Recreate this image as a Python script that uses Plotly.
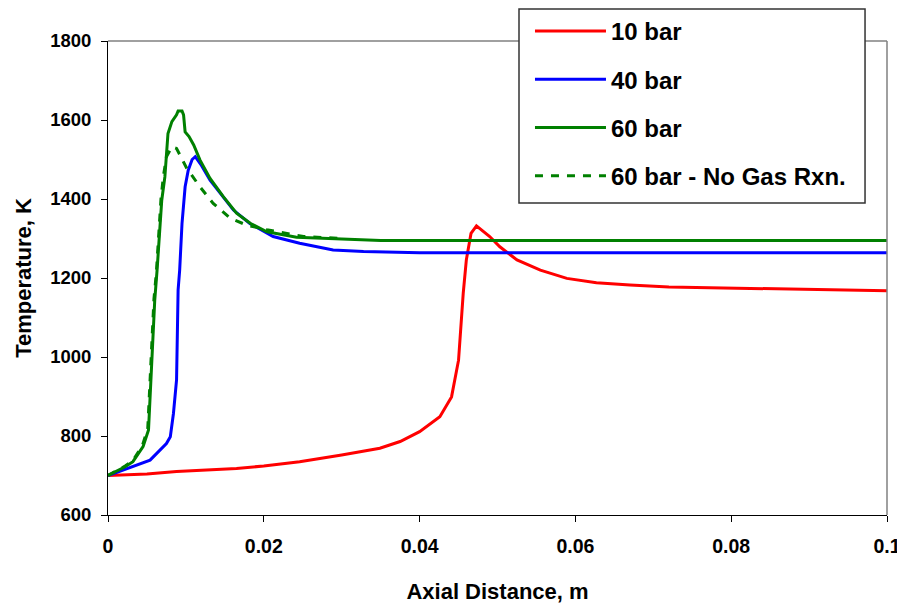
import plotly.graph_objects as go

# ---- data ----
x_10bar = [0, 0.005, 0.0088, 0.0165, 0.02, 0.0246, 0.03, 0.0349, 0.0375, 0.04, 0.0426,
           0.0441, 0.045, 0.0453, 0.0456, 0.046, 0.0466, 0.0473, 0.049, 0.0503, 0.0525,
           0.0555, 0.0589, 0.0627, 0.067, 0.072, 0.08, 0.09, 0.1]
t_10bar = [700, 704, 710, 718, 724, 735, 752, 769, 786, 811, 849,
           899, 992, 1077, 1161, 1246, 1313, 1332, 1305, 1279, 1246,
           1220, 1199, 1188, 1182, 1177, 1174, 1170, 1168]

x_40bar = [0, 0.0032, 0.0054, 0.0075, 0.008, 0.0084, 0.0088, 0.009, 0.0092, 0.0095,
           0.0099, 0.0103, 0.0108, 0.0112, 0.012, 0.0131, 0.0161, 0.0182, 0.0212, 0.0246,
           0.0289, 0.0328, 0.04, 0.1]
t_40bar = [700, 722, 739, 781, 798, 857, 942, 1170, 1220, 1338,
           1431, 1473, 1500, 1507, 1485, 1448, 1372, 1338, 1305, 1288,
           1271, 1267, 1264, 1264]

x_60bar = [0, 0.0022, 0.0032, 0.0045, 0.0052, 0.0054, 0.0056, 0.0058, 0.006, 0.0063,
           0.0066, 0.0069, 0.0073, 0.0077, 0.0082, 0.0088, 0.009, 0.0095, 0.0097, 0.0099,
           0.0104, 0.011, 0.0118, 0.0131, 0.0148, 0.0165, 0.0183, 0.0204, 0.0242, 0.0298,
           0.035, 0.1]
t_60bar = [700, 722, 735, 773, 815, 895, 980, 1085, 1144, 1220,
           1313, 1397, 1456, 1566, 1596, 1613, 1623, 1623, 1613, 1570,
           1558, 1537, 1499, 1452, 1406, 1364, 1338, 1317, 1303, 1298,
           1295, 1295]

x_60nogas = [0, 0.0022, 0.0032, 0.0044, 0.0051, 0.0053, 0.0055, 0.0057, 0.0059, 0.0062,
             0.0065, 0.0068, 0.0071, 0.0075, 0.0082, 0.0088, 0.0094, 0.0101, 0.0118, 0.0135,
             0.0157, 0.0178, 0.0204, 0.0251, 0.0302]
t_60nogas = [700, 724, 738, 775, 818, 898, 983, 1088, 1147, 1212,
             1315, 1400, 1456, 1507, 1532, 1528, 1505, 1478, 1431, 1389,
             1351, 1334, 1322, 1305, 1300]

series_names = ["10 bar", "40 bar", "60 bar", "60 bar - No Gas Rxn."]
x_ticks = [0, 0.02, 0.04, 0.06, 0.08, 0.1]
x_ticktext = ["0", "0.02", "0.04", "0.06", "0.08", "0.1"]
y_ticks = [600, 800, 1000, 1200, 1400, 1600, 1800]

FONT = "Liberation Sans, Arial, sans-serif"

fig = go.Figure()
fig.add_trace(go.Scatter(x=x_10bar, y=t_10bar, mode="lines", name=series_names[0],
                         legendgroup="a", line=dict(color="#FF0000", width=3)))
fig.add_trace(go.Scatter(x=x_40bar, y=t_40bar, mode="lines", name=series_names[1],
                         legendgroup="b", line=dict(color="#0000FF", width=3)))
fig.add_trace(go.Scatter(x=x_60bar, y=t_60bar, mode="lines", name=series_names[2],
                         legendgroup="c", line=dict(color="#008000", width=3)))
fig.add_trace(go.Scatter(x=x_60nogas, y=t_60nogas, mode="lines", name=series_names[3],
                         legendgroup="d", line=dict(color="#008000", width=3, dash="8px,8px")))

fig.update_layout(
    width=897, height=597,
    margin=dict(l=100, r=18, t=33, b=90, autoexpand=False),
    paper_bgcolor="white", plot_bgcolor="white",
    font=dict(family=FONT, color="black", weight="bold"),
    showlegend=True,
    legend=dict(x=0.5417, y=1.0675, xanchor="left", yanchor="top",
                bgcolor="rgba(0,0,0,0)", borderwidth=0,
                font=dict(family=FONT, size=24, color="black", weight="bold"),
                traceorder="grouped", tracegroupgap=14, itemwidth=71),
    xaxis=dict(range=[0, 0.1], tickmode="array", tickvals=x_ticks, ticktext=x_ticktext,
               automargin=False,
               showgrid=False, zeroline=False, showline=True, linecolor="black", linewidth=1,
               ticks="outside", ticklen=6, tickcolor="black", tickwidth=1,
               ticklabelstandoff=8,
               tickfont=dict(family=FONT, size=19.5, color="black", weight="bold"),
               title=dict(text="Axial Distance, m", standoff=27,
                          font=dict(family=FONT, size=22, color="black", weight="bold"))),
    yaxis=dict(range=[600, 1800], tickmode="array", tickvals=y_ticks,
               automargin=False,
               showgrid=False, zeroline=False, showline=True, linecolor="black", linewidth=1,
               ticks="outside", ticklen=6, tickcolor="black", tickwidth=1,
               ticklabelstandoff=6,
               tickfont=dict(family=FONT, size=18.5, color="black", weight="bold"),
               title=dict(text="Temperature, K", standoff=12,
                          font=dict(family=FONT, size=22, color="black", weight="bold"))),
    shapes=[
        dict(type="line", xref="paper", yref="paper", x0=0, x1=1, y0=1, y1=1,
             line=dict(color="#808080", width=1.5)),
        dict(type="line", xref="paper", yref="paper", x0=1, x1=1, y0=0, y1=1,
             line=dict(color="#808080", width=1.5)),
        # legend box
        dict(type="rect", xref="paper", yref="paper", layer="above",
             x0=0.5276, x1=0.9718, y0=0.6582, y1=1.0675,
             fillcolor="white", line=dict(color="#333333", width=1.5)),
    ],
)

fig.write_html("out.html")
